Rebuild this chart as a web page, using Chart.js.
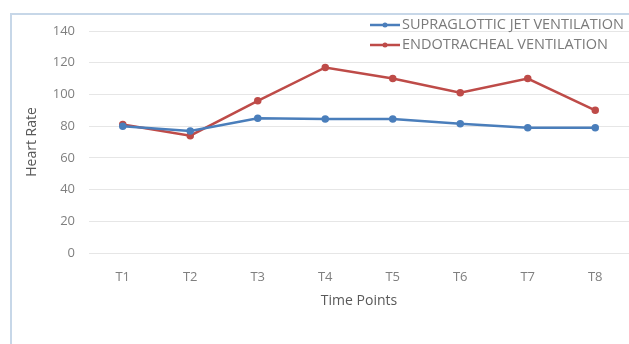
<!DOCTYPE html>
<html>
<head>
<meta charset="utf-8">
<script src="https://cdn.jsdelivr.net/npm/chart.js@4.4.1/dist/chart.umd.min.js"></script>
<style>
  html, body { margin: 0; padding: 0; background: #ffffff; overflow: hidden; width: 629px; height: 344px; }
  #wrap { position: absolute; left: 0; top: 0; width: 680px; height: 344px; }
  #frame { position: absolute; left: 10px; top: 13px; width: 700px; height: 340px;
           border-left: 2px solid #c7d7e8; border-top: 2px solid #c7d7e8; pointer-events: none; }
</style>
</head>
<body>
<div id="wrap"><canvas id="c" width="680" height="344"></canvas></div>
<div id="frame"></div>
<script>
const categories = ["T1", "T2", "T3", "T4", "T5", "T6", "T7", "T8"];
const supraglotticJet = [80, 77, 85, 84.5, 84.5, 81.5, 79, 79];
const endotracheal = [81, 74, 96, 117, 110, 101, 110, 90];
const seriesLabels = ["SUPRAGLOTTIC JET VENTILATION", "ENDOTRACHEAL VENTILATION"];
const yTicks = [0, 20, 40, 60, 80, 100, 120, 140];

const FONT = '"Open Sans", "Liberation Sans", sans-serif';

const legendPlugin = {
  id: 'customLegend',
  afterDraw(chart) {
    const ctx = chart.ctx;
    ctx.save();
    ctx.font = '14.5px ' + FONT;
    ctx.textBaseline = 'middle';
    chart.data.datasets.forEach((ds, i) => {
      const y = 25 + i * 20;
      const x0 = 370;
      ctx.strokeStyle = ds.borderColor;
      ctx.lineWidth = 2.5;
      ctx.beginPath(); ctx.moveTo(x0, y); ctx.lineTo(x0 + 30, y); ctx.stroke();
      ctx.fillStyle = ds.borderColor;
      ctx.beginPath(); ctx.arc(x0 + 15, y, 2.5, 0, Math.PI * 2); ctx.fill();
      ctx.fillStyle = '#7a7a7a';
      ctx.textAlign = 'left';
      ctx.fillText(ds.label, x0 + 32, y);
    });
    ctx.restore();
  }
};

new Chart(document.getElementById('c'), {
  type: 'line',
  data: {
    labels: categories,
    datasets: [
      { label: seriesLabels[0], data: supraglotticJet, borderColor: '#4a7ebb', backgroundColor: '#4a7ebb',
        borderWidth: 2.5, pointRadius: 2.5, pointHoverRadius: 2.5, tension: 0 },
      { label: seriesLabels[1], data: endotracheal, borderColor: '#be4b48', backgroundColor: '#be4b48',
        borderWidth: 2.5, pointRadius: 2.5, pointHoverRadius: 2.5, tension: 0 }
    ]
  },
  options: {
    responsive: false,
    animation: false,
    layout: { padding: { top: 31, right: 51, left: 0, bottom: 0 } },
    plugins: { legend: { display: false }, tooltip: { enabled: false } },
    scales: {
      x: {
        offset: true,
        grid: { display: false, drawTicks: false, offset: true },
        border: { display: false },
        ticks: { color: '#7f7f7f', font: { size: 13, family: FONT }, padding: 16 },
        title: { display: true, text: 'Time Points', color: '#595959',
                 font: { size: 14, family: FONT }, padding: { top: 0, bottom: 35 } },
        afterFit(scale) { scale.height = 91; }
      },
      y: {
        min: 0, max: 140,
        afterBuildTicks(scale) { scale.ticks = yTicks.map(v => ({ value: v })); },
        grid: { color: '#e6e6e6', lineWidth: 1, drawTicks: false },
        border: { display: false },
        ticks: { color: '#7f7f7f', font: { size: 13, family: FONT }, padding: 14 },
        title: { display: true, text: 'Heart Rate', color: '#595959',
                 font: { size: 14, family: FONT }, padding: { top: 24, bottom: 0 } },
        afterFit(scale) { scale.width = 89; }
      }
    }
  },
  plugins: [legendPlugin]
});
</script>
</body>
</html>
